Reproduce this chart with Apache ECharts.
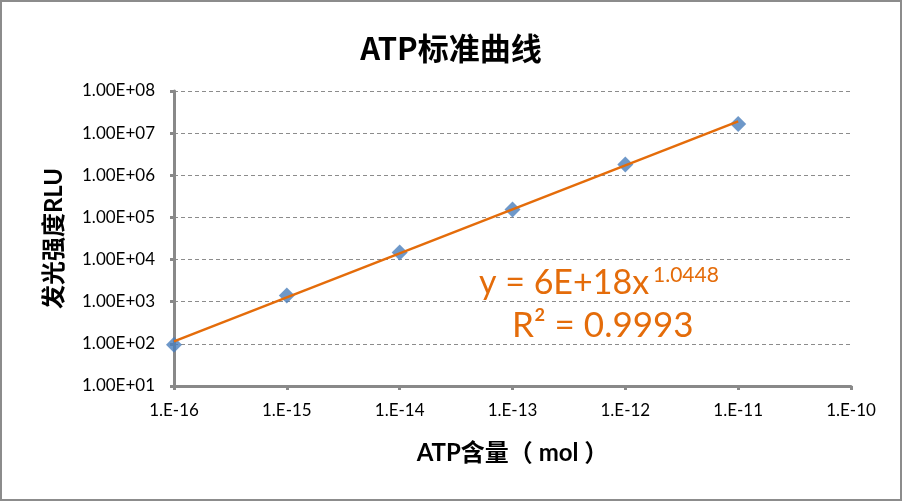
<!DOCTYPE html>
<html><head><meta charset="utf-8">
<script src="https://cdn.jsdelivr.net/npm/echarts@6/dist/echarts.min.js"></script>
<style>html,body{margin:0;padding:0;background:#fff}#c{width:902px;height:501px;box-sizing:border-box;border:2px solid #8c8c8c}</style>
</head><body><div id="c"></div>
<script>
var atpMol = [1e-16, 1e-15, 1e-14, 1e-13, 1e-12, 1e-11];
var rlu = [95, 1.4e3, 1.47e4, 1.55e5, 1.8e6, 1.65e7];
var trendX = [1e-16, 1e-11];
var trendY = [115, 1.9e7];
var title = 'ATP标准曲线';
var xName = 'ATP含量（ mol ）';
var yName = '发光强度RLU';

var chart = echarts.init(document.getElementById('c'));
var font = 'Lato, "Noto Sans CJK SC", sans-serif';
chart.setOption({
  animation: false,
  title: {text: title, left: 'center', top: 26, textStyle: {fontSize: 31, fontWeight: 'bold', color: '#000', fontFamily: '"Noto Sans CJK SC", sans-serif'}},
  grid: {left: 172, right: 49, top: 89, bottom: 113},
  xAxis: {
    type: 'log', logBase: 10, min: 1e-16, max: 1e-10,
    name: xName, nameLocation: 'middle', nameGap: 55,
    nameTextStyle: {fontSize: 24, fontWeight: 'bold', color: '#000', fontFamily: font},
    axisLine: {lineStyle: {color: '#898989', width: 3}},
    axisTick: {show: true, length: 4, lineStyle: {color: '#898989', width: 3}},
    minorTick: {show: false},
    splitLine: {show: false},
    axisLabel: {margin: 16, fontSize: 17, color: '#000', fontFamily: font,
      formatter: function (v) { var e = Math.round(Math.log10(v)); return '1.E' + (e < 0 ? '-' : '+') + (Math.abs(e) < 10 ? '0' : '') + Math.abs(e); }}
  },
  yAxis: {
    type: 'log', logBase: 10, min: 10, max: 1e8,
    name: yName, nameLocation: 'middle', nameGap: 108,
    nameTextStyle: {fontSize: 24, fontWeight: 'bold', color: '#000', fontFamily: font},
    axisLine: {show: true, lineStyle: {color: '#898989', width: 3}},
    axisTick: {show: true, length: 4, lineStyle: {color: '#898989', width: 3}},
    splitLine: {show: true, lineStyle: {color: '#8c8c8c', type: [4, 3], width: 1}},
    axisLabel: {margin: 19, fontSize: 17, color: '#000', fontFamily: font,
      formatter: function (v) { var e = Math.round(Math.log10(v)); return '1.00E' + (e < 0 ? '-' : '+') + (Math.abs(e) < 10 ? '0' : '') + Math.abs(e); }}
  },
  series: [
    {type: 'line', data: trendX.map(function (x, i) { return [x, trendY[i]]; }), symbol: 'none',
     lineStyle: {color: '#E46C0A', width: 2.5}, z: 3},
    {type: 'scatter', data: atpMol.map(function (x, i) { return [x, rlu[i]]; }), symbol: 'diamond', symbolSize: [16, 16],
     itemStyle: {color: '#4A7EBB'}, z: 2}
  ],
  graphic: [
    {type: 'text', left: 477, top: 264, style: {text: 'y = 6E+18x', fontSize: 34, fill: '#E46C0A', fontFamily: font}},
    {type: 'text', left: 651, top: 263, style: {text: '1.0448', fontSize: 21, fill: '#E46C0A', fontFamily: font}},
    {type: 'text', left: 510, top: 306, style: {text: 'R² = 0.9993', fontSize: 35, fill: '#E46C0A', fontFamily: font}}
  ]
});
</script></body></html>
